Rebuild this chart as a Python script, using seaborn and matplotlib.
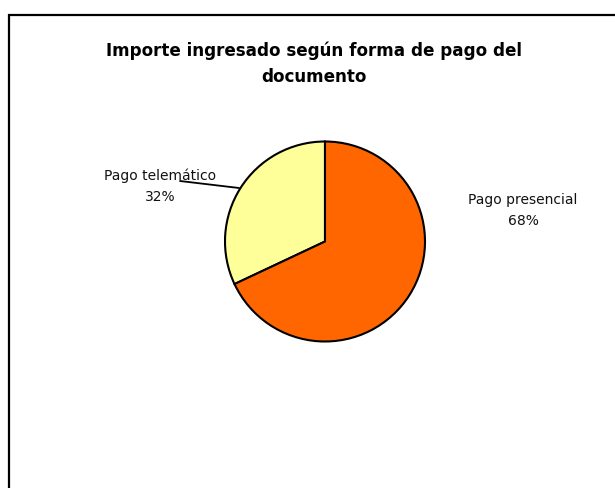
import matplotlib
matplotlib.use("Agg")
import matplotlib.pyplot as plt
import seaborn as sns
from matplotlib.patches import Rectangle
from matplotlib import font_manager

# data
categorias = ['Pago telemático', 'Pago presencial']
porcentajes = [32, 68]
colores = ['#FFFF99', '#FF6600']

sns.set_theme(style='white')
nombres = {f.name for f in font_manager.fontManager.ttflist}
fuente = 'Liberation Sans Narrow' if 'Liberation Sans Narrow' in nombres else 'DejaVu Sans'
plt.rcParams['font.family'] = [fuente, 'DejaVu Sans']

W, H = 615, 488
fig = plt.figure(figsize=(W / 100, H / 100), dpi=100)

# outer chart frame (cut off on right and bottom)
fig.patches.append(Rectangle((9 / W, -0.05), 1.1, 1 - 15 / H + 0.05,
                             transform=fig.transFigure, fill=False,
                             edgecolor='black', linewidth=1.6))

# pie: centre (325, 241.5) px, radius 100 px
cx, cy, r = 325, 241.5, 100
ax = fig.add_axes([(cx - r) / W, (H - cy - r) / H, 2 * r / W, 2 * r / H])
ax.pie(porcentajes, colors=colores, startangle=90, counterclock=True,
       radius=1, wedgeprops=dict(edgecolor='black', linewidth=1.5))
ax.set_xlim(-1, 1)
ax.set_ylim(-1, 1)
ax.set_aspect('equal')
ax.axis('off')

# leader line for the small slice, runs into its label like the original
ax.plot([-1.45, -0.86], [0.605, 0.535], color='black', lw=1.3,
        clip_on=False, zorder=5)

# labels
ax.text(-1.65, 0.55, f'{categorias[0]}\n{porcentajes[0]}%', ha='center',
        va='center', fontsize=10, color='#111111', linespacing=1.65)
ax.text(1.98, 0.31, f'{categorias[1]}\n{porcentajes[1]}%', ha='center',
        va='center', fontsize=10, color='#111111', linespacing=1.65)

fig.text(314 / W, 1 - 63.5 / H,
         'Importe ingresado según forma de pago del\ndocumento',
         ha='center', va='center', fontsize=12.1, fontweight='bold',
         color='black', linespacing=1.6)

fig.savefig('out.png', dpi=100)
